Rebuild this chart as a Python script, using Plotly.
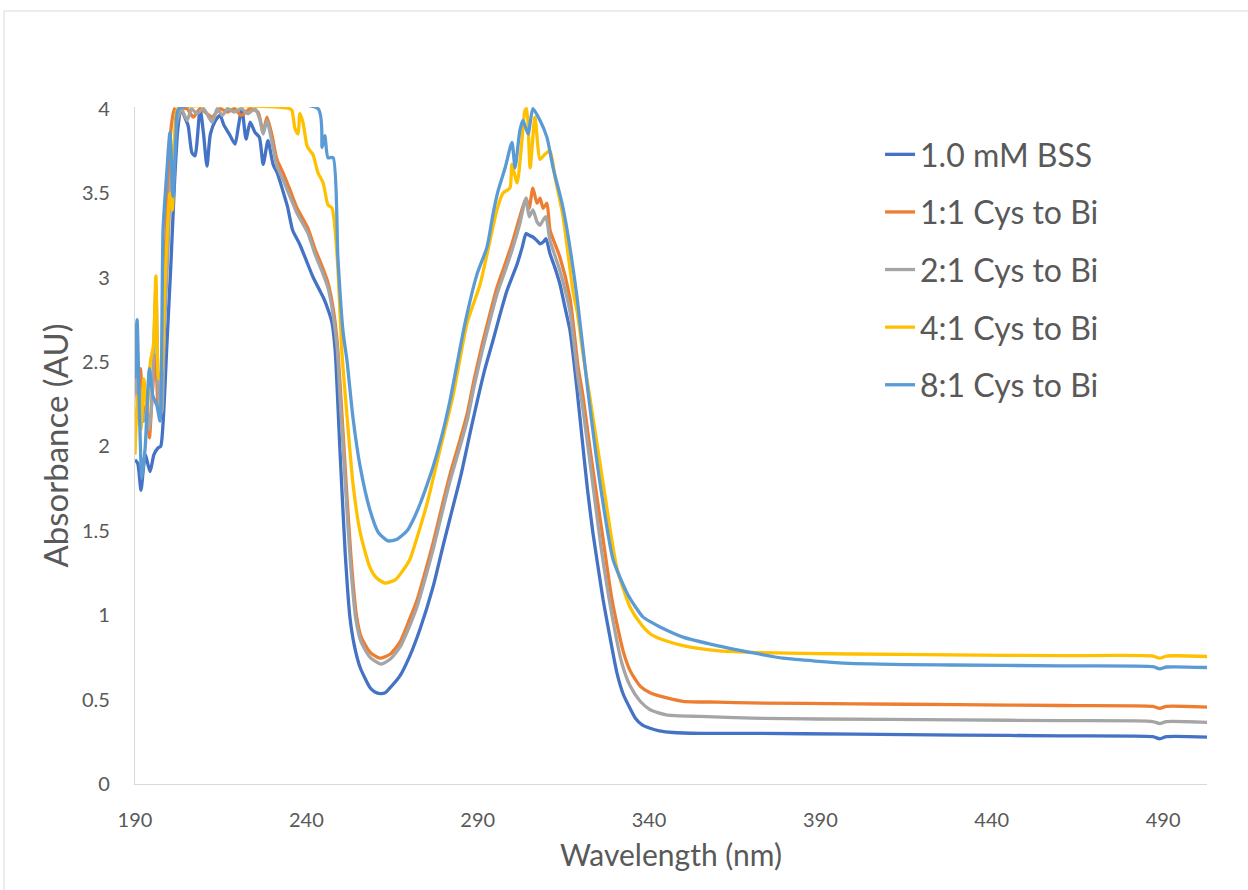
import plotly.graph_objects as go

# ---------------- data ----------------
wl_bss = [190, 190.8, 191.75, 193, 194.4, 195.5, 196.7, 197.5, 198.2, 199.3, 200.5, 201.5, 202.5, 203.4, 204.5,
          205.5, 206.6, 207.5, 209, 210, 211, 212, 213.5, 214.8, 216, 217.5, 219.2, 220.2, 221.2, 222.4, 223.6,
          225, 226.3, 227.4, 228.8, 230.3, 231.5, 233.2, 234.5, 236, 238, 240, 242, 244, 245, 246.5, 247.5,
          248.4, 249.8, 251.3, 252.7, 254, 255.7, 258.6, 260, 261.5, 263, 264, 267.3, 270, 273.2, 277, 280, 282, 285,
          288, 290, 292, 294.5, 296.5, 298.5, 300, 301.5, 303, 304.1, 305, 306.1, 307.2, 308.2, 309.1, 309.9,
          311.1, 312.5, 314, 315.5, 316.9, 317.8, 319, 320.7, 322, 323.6, 325, 326.6, 328.5, 330.6, 332.5,
          334.4, 336, 338, 340.3, 343, 347, 355, 370, 400, 430, 460, 487, 489, 491, 503]
abs_bss = [1.92, 1.90, 1.74, 1.95, 1.85, 1.95, 1.99, 2.0, 2.14, 2.6, 3.09, 3.55, 3.88, 4.0, 3.95,
           3.9, 3.74, 3.72, 4.0, 3.85, 3.66, 3.85, 3.93, 3.96, 3.9, 3.85, 3.79, 3.9, 4.0, 3.82, 3.92,
           3.86, 3.83, 3.67, 3.81, 3.67, 3.62, 3.51, 3.42, 3.28, 3.20, 3.10, 3.0, 2.92, 2.88, 2.80, 2.73,
           2.57, 1.98, 1.38, 0.99, 0.82, 0.69, 0.57, 0.545, 0.535, 0.54, 0.56, 0.64, 0.75, 0.92, 1.17, 1.42, 1.58, 1.82,
           2.1, 2.28, 2.45, 2.63, 2.78, 2.92, 3.0, 3.08, 3.18, 3.26, 3.25, 3.24, 3.22, 3.20, 3.21, 3.23,
           3.14, 3.06, 2.96, 2.82, 2.69, 2.55, 2.33, 2.0, 1.75, 1.49, 1.30, 1.09, 0.88, 0.66, 0.53,
           0.45, 0.39, 0.35, 0.33, 0.315, 0.305, 0.30, 0.30, 0.295, 0.29, 0.285, 0.28, 0.268, 0.28, 0.278]

wl_11 = [190, 190.8, 191.6, 192.5, 193.3, 194.2, 195, 196, 196.8, 197.6, 198.4, 199.3, 200.5, 201.5, 202.5,
         203.4, 205.2, 207, 209, 211, 212.5, 214.8, 217, 219, 221, 223.6, 225.9, 227.4, 228.5, 230, 231.4,
         233.2, 235.2, 237.3, 238.1, 240.5, 242.5, 244.5, 246.3, 247.8, 249, 249.9, 250.8, 251.8, 253, 254.6,
         256, 258.6, 261.5, 264.5, 267.3, 270, 272.3, 275, 277, 280, 282, 285, 287, 289, 291.5, 293.5, 295.6,
         298, 300, 302.3, 304.1, 305, 306.1, 307.3, 308.2, 309.1, 310.2, 311.1, 314, 316.9, 319.3, 320.7,
         322.8, 326.3, 329.2, 332.4, 334.5, 337.4, 340.3, 343.2, 349.9, 360, 369.5, 400, 430, 460, 487, 489,
         491, 503]
abs_11 = [2.55, 2.25, 2.46, 2.15, 2.25, 2.05, 2.3, 2.54, 2.22, 2.35, 2.9, 3.4, 3.88, 4.0, 3.95,
          4.0, 4.0, 3.95, 4.0, 3.97, 3.95, 4.0, 3.98, 4.0, 3.96, 4.0, 3.98, 3.86, 3.95, 3.84, 3.70,
          3.62, 3.52, 3.41, 3.38, 3.29, 3.17, 3.07, 2.97, 2.82, 2.62, 2.35, 2.05, 1.72, 1.35, 1.0,
          0.87, 0.78, 0.745, 0.77, 0.84, 0.97, 1.09, 1.28, 1.43, 1.68, 1.84, 2.05, 2.2, 2.4, 2.62, 2.78, 2.94,
          3.08, 3.2, 3.36, 3.47, 3.41, 3.53, 3.44, 3.47, 3.41, 3.44, 3.28, 3.12, 2.88, 2.47, 2.30,
          1.98, 1.49, 1.09, 0.79, 0.67, 0.58, 0.54, 0.52, 0.49, 0.485, 0.48, 0.475, 0.47, 0.465, 0.46, 0.448,
          0.46, 0.455]

wl_21 = [190, 190.8, 191.6, 192.5, 193.3, 194.2, 195, 196.1, 196.9, 197.8, 198.6, 199.5, 200.5, 201.5, 202.5,
         203.5, 205.2, 206.5, 208, 210, 212.5, 214, 215.5, 217, 219, 221, 223, 225, 226.5, 227.4, 228.5,
         230, 231.4, 233.2, 235.2, 237.3, 238.1, 240.5, 242.5, 244.5, 246.3, 247.8, 249, 249.8, 250.7, 251.6,
         252.8, 254.4, 256, 258.6, 261.8, 264.5, 267.3, 270, 272.3, 275, 277, 280, 282, 285, 287, 289, 291.5,
         293.5, 295.6, 298, 300, 302.3, 304.1, 305, 306.1, 307.3, 308.2, 309.1, 309.9, 311.1, 314, 316.9,
         319.3, 320.7, 322.8, 326, 329, 332, 334.5, 337.4, 340.3, 345, 355, 370, 389, 430, 460, 487, 489,
         491, 503]
abs_21 = [2.45, 2.3, 2.34, 2.15, 2.2, 2.1, 2.3, 2.95, 2.3, 2.2, 2.7, 3.1, 3.6, 3.8, 3.95,
          4.0, 3.93, 4.0, 3.97, 4.0, 3.92, 4.0, 3.96, 4.0, 3.98, 4.0, 3.97, 4.0, 3.93, 3.85, 3.93,
          3.8, 3.66, 3.58, 3.48, 3.38, 3.35, 3.26, 3.14, 3.04, 2.94, 2.78, 2.58, 2.3, 2.0, 1.7,
          1.33, 0.98, 0.84, 0.75, 0.71, 0.74, 0.81, 0.93, 1.05, 1.24, 1.39, 1.64, 1.80, 2.01, 2.16, 2.36, 2.58,
          2.74, 2.90, 3.04, 3.16, 3.32, 3.47, 3.36, 3.40, 3.33, 3.31, 3.34, 3.36, 3.22, 3.04, 2.80,
          2.40, 2.22, 1.90, 1.40, 1.02, 0.72, 0.58, 0.49, 0.44, 0.41, 0.40, 0.39, 0.385, 0.38, 0.375, 0.37, 0.358,
          0.37, 0.365]

wl_41 = [190, 190.8, 191.7, 192.6, 193.5, 194.5, 195.4, 196.1, 196.9, 197.8, 198.6, 199.5, 200.2, 200.9, 201.7,
         202.5, 235.2, 235.8, 236.7, 237.6, 238.1, 239, 240.2, 241.1, 241.9, 243.4, 244.9, 246.3, 247.5, 249,
         250.4, 251.9, 253.6, 255.7, 258.6, 260.5, 263, 266, 268, 270.2, 271.7, 273.2, 275.2, 277, 279, 282.8,
         286.9, 290.7, 293.6, 295.6, 297.4, 299.4, 300, 301.5, 302.9, 303.8, 304.3, 305.3, 306.7, 308.2, 309.6,
         311.1, 312.6, 314.9, 317.8, 319, 320.7, 322.8, 326.6, 330.6, 334.4, 337.5, 340.3, 343.2, 349.9, 359.8,
         369.5, 398.6, 427.8, 460, 487, 489, 491, 503]
abs_41 = [1.95, 2.3, 2.1, 2.4, 2.2, 2.5, 2.6, 3.01, 2.4, 2.45, 2.9, 3.3, 3.5, 3.4, 3.9,
          4.0, 4.0, 3.99, 3.88, 3.85, 3.97, 3.92, 3.78, 3.75, 3.73, 3.62, 3.56, 3.43, 3.41, 3.12,
          2.55, 2.17, 1.78, 1.49, 1.28, 1.22, 1.19, 1.21, 1.26, 1.33, 1.42, 1.52, 1.66, 1.81, 1.98, 2.3,
          2.73, 2.96, 3.22, 3.40, 3.50, 3.53, 3.67, 3.56, 3.81, 3.99, 4.0, 3.65, 3.95, 3.70, 3.73,
          3.75, 3.59, 3.36, 2.92, 2.80, 2.55, 2.28, 1.78, 1.28, 1.05, 0.95, 0.89, 0.86, 0.82, 0.79,
          0.78, 0.77, 0.765, 0.76, 0.758, 0.745, 0.758, 0.755]

wl_81 = [190, 190.6, 191.3, 192, 193, 194.2, 195.2, 196.4, 197.3, 198.2, 199.2, 200.2, 201.1, 202, 202.8,
         243.4, 244.6, 245.4, 246.3, 247.8, 249.2, 250.7, 251.9, 253.6, 255.7, 258.6, 261, 263.8, 266.5, 269.4,
         271.3, 273.2, 275, 277, 279.5, 281.9, 286.3, 289.8, 292.7, 294.5, 295.9, 298, 300, 300.9, 302.3, 303.2,
         304.7, 306.1, 308.2, 310.2, 312, 314.6, 316.1, 319, 321.9, 325.7, 329.5, 333.6, 336, 338.2, 340.5,
         343.2, 349.9, 359.8, 369.5, 379.1, 398.6, 427.8, 460, 487, 489, 491, 503]
abs_81 = [2.40, 2.75, 2.2, 1.81, 2.0, 2.46, 2.3, 2.24, 2.15, 3.29, 3.6, 3.86, 3.48, 3.85, 4.0,
          4.0, 3.77, 3.84, 3.71, 3.71, 3.12, 2.68, 2.5, 2.17, 1.88, 1.62, 1.49, 1.44, 1.45, 1.50,
          1.57, 1.66, 1.76, 1.88, 2.06, 2.27, 2.73, 3.02, 3.18, 3.38, 3.51, 3.65, 3.80, 3.65, 3.87, 3.93,
          3.85, 4.0, 3.93, 3.83, 3.65, 3.44, 3.28, 2.88, 2.37, 1.78, 1.33, 1.13, 1.05, 0.99, 0.96,
          0.93, 0.87, 0.82, 0.78, 0.745, 0.715, 0.705, 0.70, 0.695, 0.682, 0.693, 0.69]

series_names = ["1.0 mM BSS", "1:1 Cys to Bi", "2:1 Cys to Bi", "4:1 Cys to Bi", "8:1 Cys to Bi"]
series_x = [wl_bss, wl_11, wl_21, wl_41, wl_81]
series_y = [abs_bss, abs_11, abs_21, abs_41, abs_81]
series_colors = ["#4472C4", "#ED7D31", "#A5A5A5", "#FFC000", "#5B9BD5"]

x_ticks = [190, 240, 290, 340, 390, 440, 490]
y_ticks = [0, 0.5, 1, 1.5, 2, 2.5, 3, 3.5, 4]

for xs, ys in zip(series_x, series_y):
    assert len(xs) == len(ys), (len(xs), len(ys))

# ---------------- figure ----------------
FONT = "Lato, 'Open Sans', sans-serif"
GREY_TXT = "#595959"
AX = "#D9D9D9"

fig = go.Figure()
for i, (name, xs, ys, col) in enumerate(zip(series_names, series_x, series_y, series_colors)):
    fig.add_trace(go.Scatter(
        x=xs, y=ys, mode="lines", name=name, legendgroup=f"g{i}",
        line=dict(color=col, width=3.3, shape="spline", smoothing=0.6),
    ))

fig.update_layout(
    width=1248, height=890,
    margin=dict(l=135, r=41, t=107, b=106),
    paper_bgcolor="white", plot_bgcolor="white",
    font=dict(family=FONT, color=GREY_TXT),
    showlegend=True,
    legend=dict(
        x=0.695, y=0.9704, xanchor="left", yanchor="top",
        font=dict(size=32, color=GREY_TXT, family=FONT),
        bgcolor="rgba(0,0,0,0)", tracegroupgap=13, traceorder="grouped",
    ),
    xaxis=dict(
        range=[190, 502.8], tickmode="array", tickvals=x_ticks,
        ticktext=[str(v) for v in x_ticks],
        showgrid=False, zeroline=False, showline=True, linecolor=AX, linewidth=1.3,
        ticks="outside", ticklen=18, tickcolor="rgba(0,0,0,0)",
        tickfont=dict(size=20, color=GREY_TXT, family=FONT),
        title=dict(text="Wavelength (nm)", font=dict(size=30, color=GREY_TXT, family=FONT), standoff=14),
        automargin=False,
    ),
    yaxis=dict(
        range=[0, 4.01], tickmode="array", tickvals=y_ticks,
        ticktext=["0", "0.5", "1", "1.5", "2", "2.5", "3", "3.5", "4"],
        showgrid=False, zeroline=False, showline=True, linecolor=AX, linewidth=1.3,
        ticks="outside", ticklen=20, tickcolor="rgba(0,0,0,0)",
        tickfont=dict(size=20, color=GREY_TXT, family=FONT),
        title=dict(text="Absorbance (AU)", font=dict(size=33, color=GREY_TXT, family=FONT), standoff=3),
        automargin=False,
    ),
    shapes=[dict(
        type="rect", xref="paper", yref="paper",
        x0=(4 - 135) / 1072, x1=1.2, y0=-0.3, y1=(784 - 11) / 677,
        line=dict(color="#D9D9D9", width=1), fillcolor="rgba(0,0,0,0)", layer="below",
    )],
)

fig.write_html("out.html")
